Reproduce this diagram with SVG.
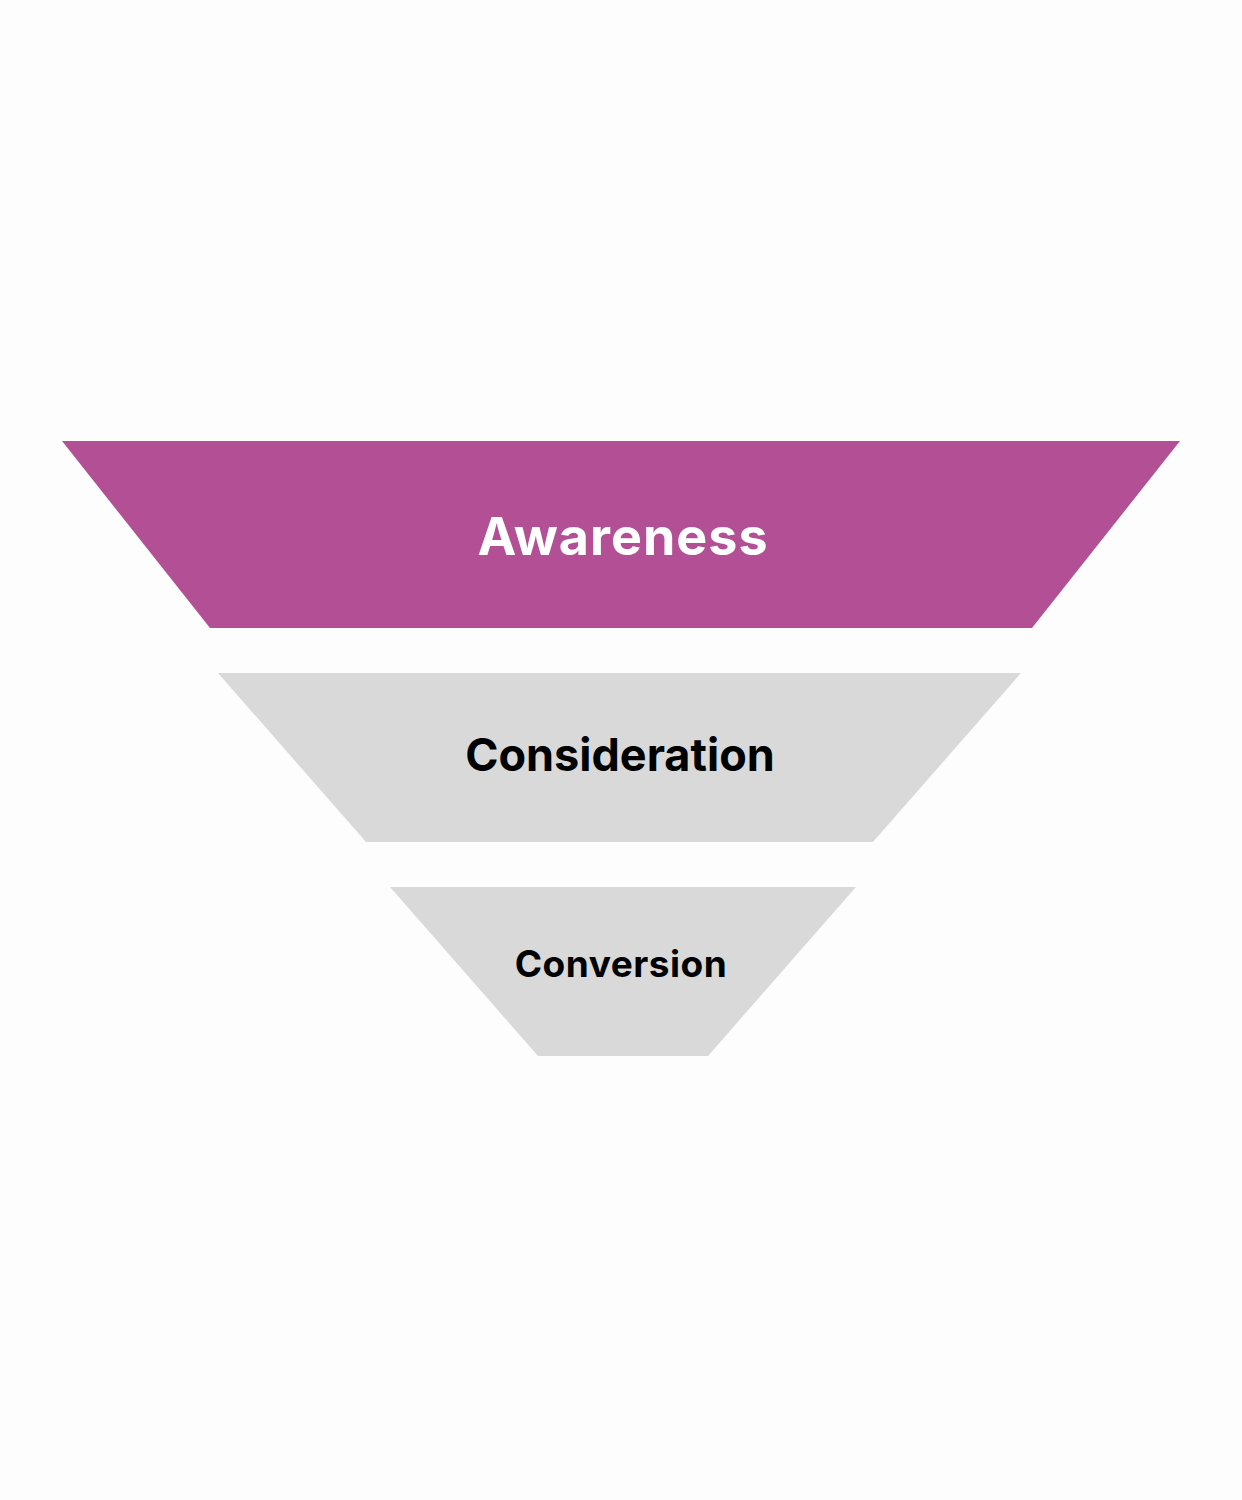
<svg xmlns="http://www.w3.org/2000/svg" width="1242" height="1500" viewBox="0 0 1242 1500">
<style>
.t{font-family:Inter,"Liberation Sans",sans-serif;font-weight:bold;text-anchor:middle}
.g{fill:#D9D9D9}
</style>
<rect width="1242" height="1500" fill="#FDFDFD"/>
<g id="awareness">
<polygon points="62,441 1180,441 1032,628 210,628" fill="#B35095"/>
<text class="t" x="623" y="555" font-size="52" fill="#FFFFFF" letter-spacing="1">Awareness</text>
</g>
<g id="consideration">
<polygon class="g" points="218,673 1021,673 873,842 366,842"/>
<text class="t" x="620" y="771" font-size="45" fill="#000000">Consideration</text>
</g>
<g id="conversion">
<polygon class="g" points="390,887 856,887 708,1056 538,1056"/>
<text class="t" x="621" y="977" font-size="37" fill="#000000" letter-spacing="0.5">Conversion</text>
</g>
<g id="connectors"/>
</svg>
